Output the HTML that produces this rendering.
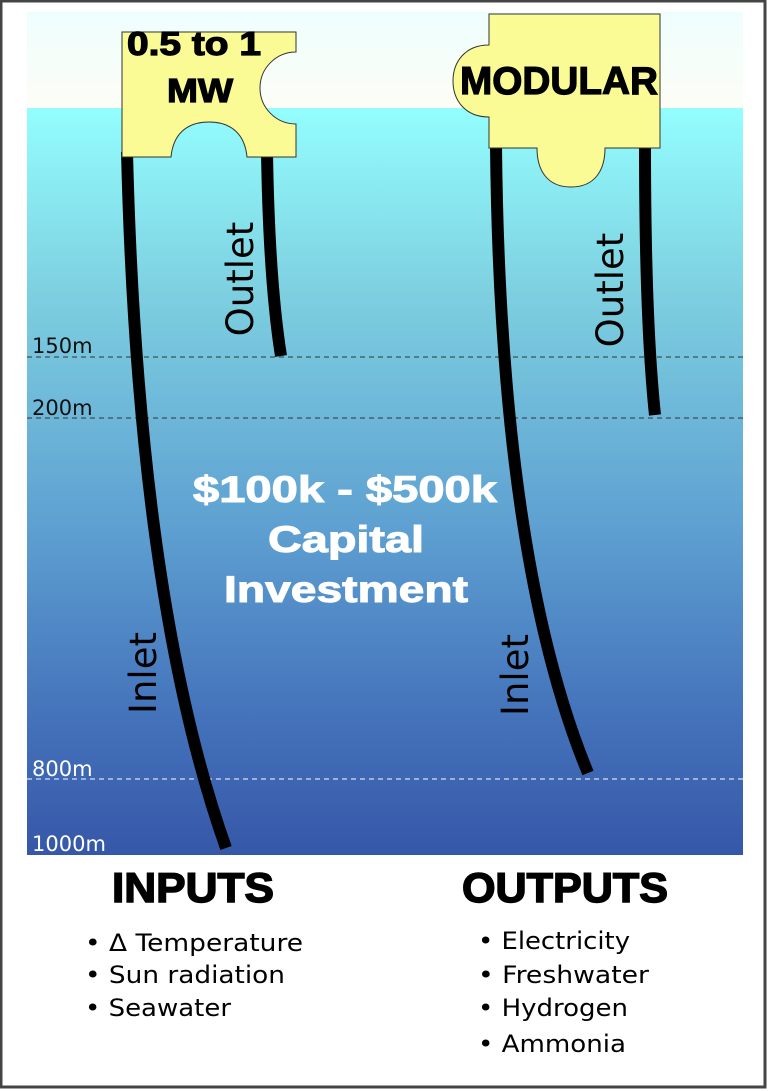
<!DOCTYPE html>
<html><head><meta charset="utf-8"><style>
html,body{margin:0;padding:0;background:#fff;}
svg{display:block;font-family:"DejaVu Sans","Liberation Sans",sans-serif;}
.hb{font-family:"Liberation Sans",sans-serif;font-weight:bold;}
</style></head><body>
<svg width="769" height="1091" viewBox="0 0 769 1091">
<defs>
<linearGradient id="sky" x1="0" y1="0" x2="0" y2="1"><stop offset="0" stop-color="#eefefe"/><stop offset="1" stop-color="#fdfdf6"/></linearGradient>
<linearGradient id="sea" x1="0" y1="0" x2="0" y2="1"><stop offset="0" stop-color="#94fefe"/><stop offset="0.25" stop-color="#7dcfe0"/><stop offset="0.55" stop-color="#5fa2d2"/><stop offset="0.8" stop-color="#4575bc"/><stop offset="1" stop-color="#3657a8"/></linearGradient>
</defs>
<rect x="0" y="0" width="769" height="1091" fill="#fff"/>
<rect x="1" y="1" width="764" height="1086" fill="none" stroke="#444" stroke-width="3"/>
<rect x="27" y="12" width="716" height="96" fill="url(#sky)"/>
<rect x="27" y="108" width="716" height="747" fill="url(#sea)"/>
<g stroke-dasharray="5,4" stroke-width="1">
<line x1="27" y1="357" x2="743" y2="357" stroke="#333"/>
<line x1="27" y1="418" x2="743" y2="418" stroke="#333"/>
<line x1="27" y1="779" x2="743" y2="779" stroke="#fff"/>
</g>
<g font-size="21">
<text x="32" y="353" fill="#111">150m</text>
<text x="32" y="415" fill="#111">200m</text>
<text x="32" y="776" fill="#fff">800m</text>
<text x="32" y="851" fill="#fff">1000m</text>
</g>
<g fill="none" stroke="#000" stroke-width="12">
<path d="M127,152 Q138,600 226,848"/>
<path d="M267,152 Q269,280 281,356"/>
<path d="M496,145 Q500,560 588,773"/>
<path d="M645,145 Q645,320 655,415"/>
</g>
<path d="M122,32 H296 V52 A36,36 0 0 0 296,124 V157 H247 C245,135 232,122 209,122 C186,122 173,135 171,157 H122 Z" fill="#fbfb95" stroke="#333" stroke-width="1"/>
<path d="M489,14 H660 V148 H605 C605,170 595,187 571,187 C547,187 537,170 537,148 H489 V117 C465,117 453,100 453,81 C453,62 465,45 489,45 Z" fill="#fbfb95" stroke="#333" stroke-width="1"/>
<g class="hb" fill="#000" stroke="#000" stroke-width="1.2">
<text x="194" y="55" font-size="33" text-anchor="middle" textLength="134" lengthAdjust="spacingAndGlyphs">0.5 to 1</text>
<text x="200" y="102" font-size="33" text-anchor="middle" textLength="66" lengthAdjust="spacingAndGlyphs">MW</text>
<text x="460" y="94" font-size="39" textLength="198" lengthAdjust="spacingAndGlyphs">MODULAR</text>
</g>
<g font-size="37" fill="#000">
<text transform="translate(253,279) rotate(-90)" text-anchor="middle">Outlet</text>
<text transform="translate(156,673) rotate(-90)" text-anchor="middle">Inlet</text>
<text transform="translate(623,290) rotate(-90)" text-anchor="middle">Outlet</text>
<text transform="translate(528,675) rotate(-90)" text-anchor="middle">Inlet</text>
</g>
<g class="hb" fill="#fff" stroke="#fff" stroke-width="1" font-size="37" text-anchor="middle">
<text x="345" y="502" textLength="304" lengthAdjust="spacingAndGlyphs">$100k - $500k</text>
<text x="346" y="552" textLength="156" lengthAdjust="spacingAndGlyphs">Capital</text>
<text x="346" y="602" textLength="244" lengthAdjust="spacingAndGlyphs">Investment</text>
</g>
<g class="hb" fill="#000" stroke="#000" stroke-width="1.5" font-size="42" text-anchor="middle">
<text x="193" y="902" textLength="162" lengthAdjust="spacingAndGlyphs">INPUTS</text>
<text x="565" y="902" textLength="206" lengthAdjust="spacingAndGlyphs">OUTPUTS</text>
</g>
<g font-size="24" fill="#000">
<text x="85" y="951" textLength="218" lengthAdjust="spacingAndGlyphs">• Δ Temperature</text>
<text x="85" y="983" textLength="200" lengthAdjust="spacingAndGlyphs">• Sun radiation</text>
<text x="85" y="1016" textLength="146" lengthAdjust="spacingAndGlyphs">• Seawater</text>
<text x="478" y="949" textLength="152" lengthAdjust="spacingAndGlyphs">• Electricity</text>
<text x="478" y="983" textLength="171" lengthAdjust="spacingAndGlyphs">• Freshwater</text>
<text x="478" y="1016" textLength="150" lengthAdjust="spacingAndGlyphs">• Hydrogen</text>
<text x="478" y="1052" textLength="148" lengthAdjust="spacingAndGlyphs">• Ammonia</text>
</g>
</svg>
</body></html>
